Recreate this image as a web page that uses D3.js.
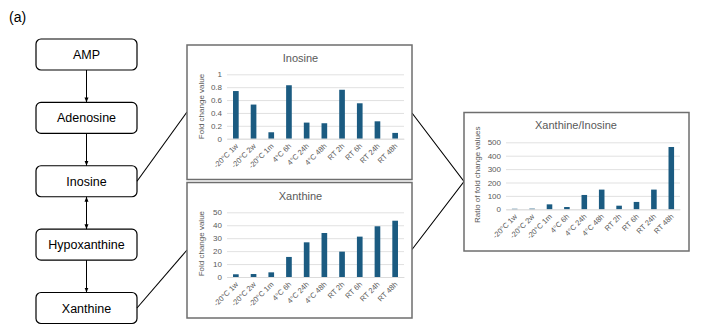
<!DOCTYPE html>
<html>
<head>
<meta charset="utf-8">
<script src="https://cdn.jsdelivr.net/npm/d3@7"></script>
<style>
  html, body { margin: 0; padding: 0; background: #fff; }
  svg { display: block; font-family: "Liberation Sans", Arial, sans-serif; }
</style>
</head>
<body>
<svg id="chart" width="701" height="334"></svg>
<script>
// ---------- DATA ----------
const pathwaySteps = ["AMP", "Adenosine", "Inosine", "Hypoxanthine", "Xanthine"];
const categories = ["-20°C 1w", "-20°C 2w", "-20°C 1m", "4°C 6h", "4°C 24h", "4°C 48h", "RT 2h", "RT 6h", "RT 24h", "RT 48h"];
const inosineValues = [0.74, 0.53, 0.10, 0.83, 0.25, 0.24, 0.76, 0.55, 0.27, 0.09];
const xanthineValues = [2.1, 2.3, 3.6, 15.5, 26.8, 34.0, 19.6, 31.2, 39.2, 43.5];
const ratioValues = [4, 5, 37, 17, 107, 147, 27, 55, 147, 465];
const inosineTicks = [0, 0.2, 0.4, 0.6, 0.8, 1];
const xanthineTicks = [0, 10, 20, 30, 40, 50];
const ratioTicks = [0, 100, 200, 300, 400, 500];

// ---------- SETUP ----------
const svg = d3.select("#chart");
const BAR = "#1b5b81";
const TXT = "#595959";
const GRID = "#d9d9d9";

svg.append("text").attr("x", 9).attr("y", 22)
  .attr("font-size", 14).attr("fill", "#000").text("(a)");

// arrow markers
const defs = svg.append("defs");
defs.append("marker").attr("id", "arrowEnd")
  .attr("viewBox", "0 0 10 10").attr("refX", 10).attr("refY", 5)
  .attr("markerWidth", 5).attr("markerHeight", 5).attr("orient", "auto")
  .append("path").attr("d", "M0,1 L10,5 L0,9 Z").attr("fill", "#000");
defs.append("marker").attr("id", "arrowStart")
  .attr("viewBox", "0 0 10 10").attr("refX", 0).attr("refY", 5)
  .attr("markerWidth", 5).attr("markerHeight", 5).attr("orient", "auto")
  .append("path").attr("d", "M10,1 L0,5 L10,9 Z").attr("fill", "#000");

// ---------- FLOW CHART ----------
const boxX = 36, boxW = 101, boxH = 31;
const boxY = d3.scalePoint().domain(pathwaySteps).range([39, 292.5]);
const flow = svg.append("g");
flow.selectAll("rect").data(pathwaySteps).join("rect")
  .attr("x", boxX).attr("y", d => boxY(d)).attr("width", boxW).attr("height", boxH)
  .attr("rx", 5).attr("fill", "#fff").attr("stroke", "#000").attr("stroke-width", 1.2);
flow.selectAll("text").data(pathwaySteps).join("text")
  .attr("x", boxX + boxW / 2).attr("y", d => boxY(d) + boxH / 2)
  .attr("dy", "0.36em").attr("text-anchor", "middle")
  .attr("font-size", 12.5).attr("fill", "#000").text(d => d);
const cx = boxX + boxW / 2;
pathwaySteps.slice(0, -1).forEach((d, i) => {
  const next = pathwaySteps[i + 1];
  const l = flow.append("line")
    .attr("x1", cx).attr("x2", cx)
    .attr("y1", boxY(d) + boxH).attr("y2", boxY(next))
    .attr("stroke", "#000").attr("stroke-width", 1)
    .attr("marker-end", "url(#arrowEnd)");
  if (d === "Inosine") l.attr("marker-start", "url(#arrowStart)");
});

// ---------- CONNECTORS ----------
const conn = svg.append("g").attr("stroke", "#000").attr("stroke-width", 1.1).attr("fill", "none");
conn.append("line").attr("x1", boxX + boxW).attr("y1", boxY("Inosine") + boxH / 2).attr("x2", 187).attr("y2", 112);
conn.append("line").attr("x1", boxX + boxW).attr("y1", boxY("Xanthine") + boxH / 2).attr("x2", 187).attr("y2", 250);
conn.append("polyline").attr("points", "412,113 464,181.5 412,249.5");

// ---------- BAR CHARTS ----------
function drawChart(cfg) {
  const g = svg.append("g");
  g.append("rect").attr("x", cfg.box[0]).attr("y", cfg.box[1])
    .attr("width", cfg.box[2]).attr("height", cfg.box[3])
    .attr("fill", "#fff").attr("stroke", "#6e6e6e").attr("stroke-width", 1.5);
  g.append("text").attr("x", (cfg.px[0] + cfg.px[1]) / 2 + cfg.titleDx).attr("y", cfg.titleY)
    .attr("text-anchor", "middle").attr("font-size", 11).attr("fill", TXT).text(cfg.title);

  const x = d3.scaleBand().domain(categories).range(cfg.px).paddingInner(0.68).paddingOuter(0.34);
  const y = d3.scaleLinear().domain([0, cfg.ticks[cfg.ticks.length - 1]]).range(cfg.py);

  const ya = g.append("g").attr("transform", `translate(${cfg.px[0]},0)`)
    .call(d3.axisLeft(y).tickValues(cfg.ticks).tickFormat(d => String(d))
      .tickSize(-(cfg.px[1] - cfg.px[0])).tickPadding(5));
  ya.select(".domain").remove();
  ya.selectAll("line").attr("stroke", GRID).attr("stroke-width", 0.8);
  ya.selectAll("text").attr("fill", TXT).attr("font-size", 8)
    .attr("font-family", "Liberation Sans, Arial, sans-serif");

  g.selectAll(".bar").data(cfg.values).join("rect")
    .attr("x", (d, i) => x(categories[i])).attr("width", x.bandwidth())
    .attr("y", d => y(d)).attr("height", d => y(0) - y(d)).attr("fill", BAR);

  const xa = g.append("g").attr("transform", `translate(0,${cfg.py[0]})`)
    .call(d3.axisBottom(x).tickSize(0));
  xa.select(".domain").attr("stroke", GRID).attr("stroke-width", 0.8);
  xa.selectAll("text").attr("fill", TXT).attr("font-size", 7.5)
    .attr("font-family", "Liberation Sans, Arial, sans-serif")
    .attr("x", 0).attr("y", 0).attr("dy", "0.35em")
    .attr("transform", "translate(1,6) rotate(-45)")
    .style("text-anchor", "end");

  g.append("text")
    .attr("transform", `translate(${cfg.ylabX},${(cfg.py[0] + cfg.py[1]) / 2 + cfg.ylabDy}) rotate(-90)`)
    .attr("text-anchor", "middle").attr("font-size", 8).attr("fill", TXT).text(cfg.ylabel);
}

drawChart({
  box: [187, 45, 225, 134.5], px: [227, 404], py: [138.7, 74.3],
  values: inosineValues, ticks: inosineTicks, title: "Inosine", titleY: 62, titleDx: -15,
  ylabel: "Fold change value", ylabX: 204, ylabDy: 0
});
drawChart({
  box: [187, 182.5, 225, 135.5], px: [227, 404], py: [277, 212.3],
  values: xanthineValues, ticks: xanthineTicks, title: "Xanthine", titleY: 200, titleDx: -15,
  ylabel: "Fold change value", ylabX: 204, ylabDy: -1
});
drawChart({
  box: [464, 112.5, 225, 138.5], px: [506, 680], py: [209.3, 142.3],
  values: ratioValues, ticks: ratioTicks, title: "Xanthine/Inosine", titleY: 129, titleDx: -17,
  ylabel: "Ratio of fold change values", ylabX: 480, ylabDy: -1
});
</script>
</body>
</html>
